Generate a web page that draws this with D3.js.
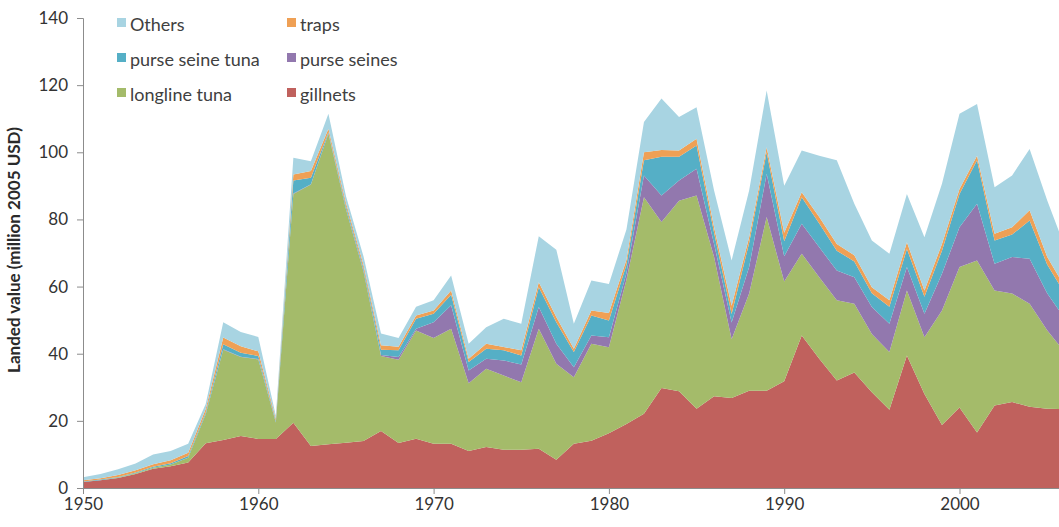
<!DOCTYPE html>
<html><head><meta charset="utf-8">
<script src="https://cdn.jsdelivr.net/npm/d3@7/dist/d3.min.js"></script>
<style>body{margin:0;background:#fff}svg{display:block}</style>
</head><body><svg id="c" width="1059" height="527"></svg>
<script>
const years = d3.range(1950, 2007);
const gillnets =       [1.8,2.3,3.0,4.2,5.7,6.5,7.6,13.3,14.3,15.5,14.6,14.6,19.4,12.5,13.0,13.5,14.0,17.0,13.4,14.7,13.2,13.2,11.0,12.2,11.4,11.4,11.7,8.4,13.2,14.1,16.3,19.1,22.1,29.8,28.8,23.6,27.3,26.8,29.0,29.0,31.8,45.4,38.5,32.0,34.4,28.5,23.3,39.5,28.0,18.8,24.0,16.5,24.6,25.6,24.2,23.6,23.5];
const longlineTuna =   [0,0,0.1,0.2,0.3,0.5,1.4,8.7,26.9,23.5,23.7,4.9,68.2,77.9,92.5,69.5,50.5,22.3,24.8,32.2,31.5,34.2,20.2,23.3,22.1,20.1,35.7,28.6,19.8,28.9,25.6,42.9,64.5,49.4,56.8,63.5,41.5,17.5,28.9,51.7,29.7,24.4,24.3,23.9,20.5,17.4,17.2,19.3,16.9,34.1,41.8,51.3,34.2,32.3,30.7,23.4,17.0];
const purseSeines =    [0,0,0,0,0,0,0,0,0.1,0.1,0.1,0.1,0.1,0.1,0.1,0.2,0.3,0.3,0.8,0.5,4.7,7.0,3.8,3.0,4.5,5.3,6.5,6.0,3.0,2.4,3.0,2.0,6.5,7.9,6.0,8.0,3.9,5.0,7.9,12.9,7.5,8.9,8.9,8.9,7.9,8.0,8.4,7.0,7.0,10.9,11.9,16.9,8.0,10.9,13.4,11.0,10.0];
const purseSeineTuna = [0.1,0.2,0.2,0.2,0.3,0.4,0.5,0.5,1.5,1.2,0.9,0.4,3.9,1.9,0.4,0.8,0.7,1.6,2.0,3.0,2.5,3.2,2.5,3.0,3.0,2.7,5.9,6.4,4.5,6.0,5.0,2.5,4.5,11.6,7.1,6.9,3.3,2.5,7.2,6.4,4.5,7.9,7.1,5.9,4.7,4.1,5.1,5.4,5.1,6.9,9.9,12.9,6.9,6.7,11.4,8.6,7.5];
const traps =          [0.4,0.4,0.6,0.7,0.8,0.9,1.0,1.0,2.0,1.9,1.4,0.6,1.8,2.0,1.0,1.0,1.0,1.3,1.1,1.0,1.0,1.2,1.0,1.5,1.0,1.5,1.5,1.5,1.0,1.5,2.2,1.5,2.4,2.0,1.8,2.0,1.7,2.5,1.7,1.5,2.5,1.5,1.9,2.0,1.8,1.8,1.9,2.0,1.8,2.0,1.5,1.4,2.0,2.2,3.0,2.3,2.0];
const others =         [0.9,1.3,1.7,2.0,2.9,2.7,2.7,1.5,4.6,4.3,4.3,0.9,5.0,2.9,4.5,2.0,2.5,3.5,2.6,2.6,3.0,4.5,4.5,4.9,8.4,7.9,13.7,20.1,7.4,8.9,8.7,9.0,9.0,15.3,10.0,9.4,10.9,13.5,13.9,16.9,14.0,12.4,18.3,24.9,15.4,13.9,13.9,14.4,15.9,17.9,22.4,15.4,13.9,15.4,18.3,16.8,12.0];
const seriesNames = ["gillnets","longline tuna","purse seines","purse seine tuna","traps","Others"];
const seriesColors = ["#C0615D","#A4BB6A","#9278AE","#55AFC6","#EFA055","#A8D4E2"];
const yTicks = [0,20,40,60,80,100,120,140];
const xTicks = [1950,1960,1970,1980,1990,2000];
const yTitle = "Landed value (million 2005 USD)";

const seriesData = [gillnets,longlineTuna,purseSeines,purseSeineTuna,traps,others];
const table = years.map((y,i)=>{const o={year:y}; seriesNames.forEach((n,k)=>o[n]=seriesData[k][i]); return o;});

const svg = d3.select("#c");
const x = d3.scaleLinear().domain([1950,2006]).range([83, 83+56*17.53]);
const y = d3.scaleLinear().domain([0,140]).range([488,18]);

const stack = d3.stack().keys(seriesNames)(table);
const area = d3.area().x(d=>x(d.data.year)).y0(d=>y(d[0])).y1(d=>y(d[1]));
svg.append("g").selectAll("path").data(stack).join("path")
  .attr("d", area).attr("fill",(d,i)=>seriesColors[i]);

const font = "Lato, 'Open Sans', sans-serif";
const yAxis = svg.append("g").attr("transform","translate(83,0)")
  .call(d3.axisLeft(y).tickValues(yTicks).tickSize(6).tickPadding(9));
const xAxis = svg.append("g").attr("transform","translate(0,488)")
  .call(d3.axisBottom(x).tickValues(xTicks).tickFormat(d3.format("d")).tickSize(6).tickPadding(4));
[yAxis,xAxis].forEach(a=>{
  a.select(".domain").attr("stroke","#8c8c8c");
  a.selectAll(".tick line").attr("stroke","#8c8c8c");
  a.selectAll("text").attr("fill","#333").style("font-family",font).style("font-size","17px");
});
xAxis.select(".domain").attr("d","M83,0.5H1059");

svg.append("text").attr("transform","translate(20,250) rotate(-90)")
  .attr("text-anchor","middle").style("font-family",font).style("font-size","17px")
  .style("font-weight","bold").attr("fill","#2a2a2a").text(yTitle);

const legendOrder = [5,4,3,2,1,0];
const lg = svg.append("g");
legendOrder.forEach((k,j)=>{
  const col = j%2, row = Math.floor(j/2);
  const gx = col===0?117:287, gy = 26 + row*35;
  lg.append("rect").attr("x",gx).attr("y",gy-8).attr("width",9).attr("height",9).attr("fill",seriesColors[k]);
  lg.append("text").attr("x",gx+13).attr("y",gy).attr("dy","0.3em")
    .style("font-family",font).style("font-size","18px").attr("fill","#404040").text(seriesNames[k]);
});
</script></body></html>
